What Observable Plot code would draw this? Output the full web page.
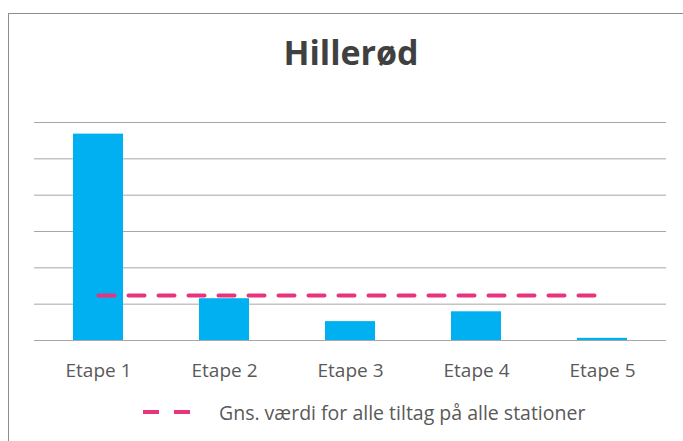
<!DOCTYPE html>
<html>
<head>
<meta charset="utf-8">
<script src="https://cdn.jsdelivr.net/npm/d3@7"></script>
<script src="https://cdn.jsdelivr.net/npm/@observablehq/plot@0.6"></script>
<style>
  html, body { margin: 0; padding: 0; background: #fff; }
  #wrap { position: relative; width: 683px; height: 441px; overflow: hidden; background: #fff; font-family: "Open Sans", sans-serif; }
  #frame { position: absolute; left: 8px; top: 13px; width: 720px; height: 500px; border-left: 1px solid #8c8c8c; border-top: 1px solid #8c8c8c; }
  #title { position: absolute; left: 0; width: 702px; top: 28px; text-align: center; font-size: 34px; font-weight: 700; color: #404040; line-height: 48px; }
  #chart { position: absolute; left: 0; top: 100px; }
  #legend { position: absolute; left: 140px; top: 398px; height: 28px; display: flex; align-items: center; font-size: 19.5px; color: #595959; }
  #legend svg { margin-right: 27px; }
</style>
</head>
<body>
<div id="wrap">
  <div id="frame"></div>
  <div id="title">Hillerød</div>
  <div id="chart"></div>
  <div id="legend"></div>
</div>
<script>
const etaper = ["Etape 1", "Etape 2", "Etape 3", "Etape 4", "Etape 5"];
const vaerdier = [56.8, 11.5, 5.2, 7.9, 0.6];
const gennemsnit = 12.4;
const gridTicks = [0, 10, 20, 30, 40, 50, 60];
const legendLabel = "Gns. værdi for alle tiltag på alle stationer";

const bars = etaper.map((e, i) => ({etape: e, value: vaerdier[i]}));
const avgLine = etaper.map(e => ({etape: e, value: gennemsnit}));

const pink = "#e8337d";
const blue = "#00b0f0";

const chart = Plot.plot({
  width: 683,
  height: 300,
  marginLeft: 34,
  marginRight: 17,
  marginTop: 22,
  marginBottom: 60,
  style: {fontFamily: "Open Sans, sans-serif", fontSize: "19px", color: "#595959", background: "transparent"},
  x: {domain: etaper, paddingInner: 0.6, paddingOuter: 0.3, label: null},
  y: {domain: [0, 60], axis: null},
  marks: [
    Plot.ruleY(gridTicks, {stroke: "#a6a6a6", strokeWidth: 1}),
    Plot.barY(bars, {x: "etape", y: "value", fill: blue}),
    Plot.lineY(avgLine, {x: "etape", y: "value", stroke: pink, strokeWidth: 4, strokeDasharray: "16,14"}),
    Plot.axisX({tickSize: 0, tickPadding: 23, fill: "#595959", fontSize: 19, label: null})
  ]
});
document.getElementById("chart").appendChild(chart);

const legend = document.getElementById("legend");
const ns = "http://www.w3.org/2000/svg";
const icon = document.createElementNS(ns, "svg");
icon.setAttribute("width", 52);
icon.setAttribute("height", 10);
const ln = document.createElementNS(ns, "line");
ln.setAttribute("x1", 3); ln.setAttribute("x2", 50);
ln.setAttribute("y1", 5); ln.setAttribute("y2", 5);
ln.setAttribute("stroke", pink);
ln.setAttribute("stroke-width", 4);
ln.setAttribute("stroke-dasharray", "16,15");
icon.appendChild(ln);
legend.appendChild(icon);
const span = document.createElement("span");
span.textContent = legendLabel;
legend.appendChild(span);
</script>
</body>
</html>
